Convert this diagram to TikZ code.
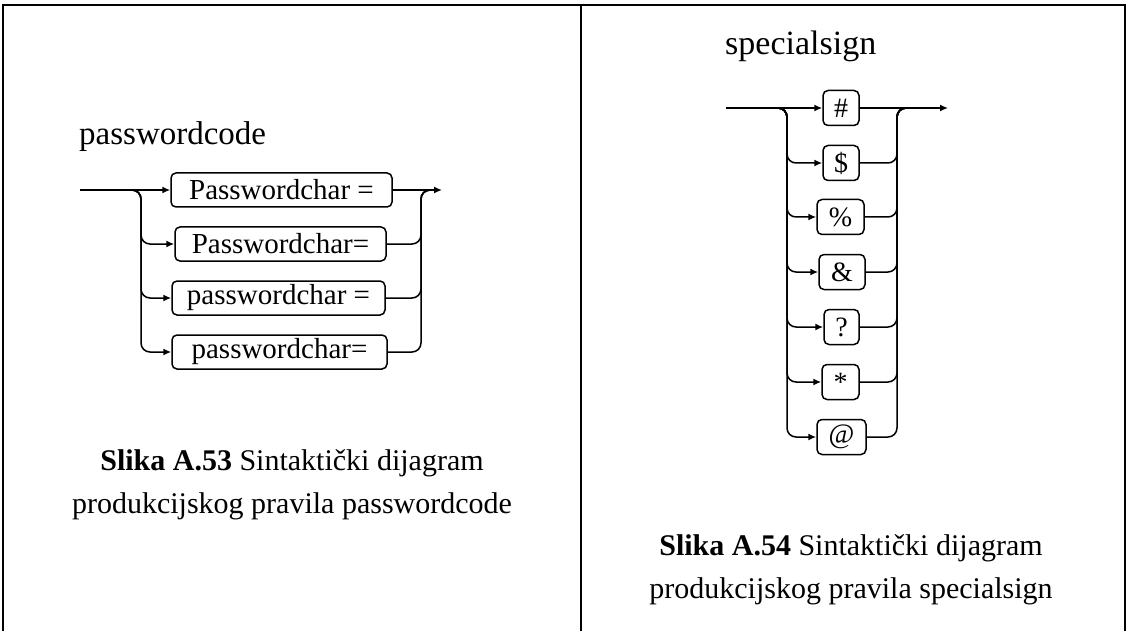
\documentclass[tikz,border=0pt]{standalone}
\usepackage{fontspec}
\setmainfont{Liberation Serif}
\usetikzlibrary{arrows.meta}
\begin{document}
\begin{tikzpicture}[x=1pt,y=-1pt,
  rail/.style={line width=1.5pt, rounded corners=9pt},
  arr/.style={-{Latex[length=8pt,width=7pt]}},
  term/.style={draw, line width=1.5pt, rounded corners=5pt, minimum height=34pt, inner sep=0pt, font=\fontsize{29}{32}\selectfont},
  sterm/.style={term, minimum height=35pt, font=\fontsize{28}{32}\selectfont},
  titletext/.style={font=\fontsize{33}{38}\selectfont, anchor=base west, inner sep=0pt},
  captext/.style={font=\fontsize{30}{36}\selectfont, anchor=base, inner sep=0pt},
  frameline/.style={line width=2pt}]
\useasboundingbox (0,0) rectangle (1127,631);
% frame
\draw[frameline] (3,631) -- (3,5) -- (1125,5) -- (1125,631);
\draw[frameline] (581,5) -- (581,631);

% ---------- left: passwordcode ----------
\node[titletext] (tL) at (79,145) {passwordcode};
\coordinate (Ls) at (80,190);
\coordinate (Lsp) at (132,190);
\coordinate (Lv) at (141,190);
\coordinate (Rv) at (421,190);
\coordinate (Rj) at (430,190);
\coordinate (Le) at (442,190);
\node[term, minimum width=221pt] (p1) at (281.5,190) {Passwordchar =};
\node[term, minimum width=211pt] (p2) at (280.5,244) {Passwordchar=};
\node[term, minimum width=213pt] (p3) at (278.5,298) {passwordchar =};
\node[term, minimum width=215pt] (p4) at (279.5,352) {passwordchar=};
\draw[rail,arr] (Ls) -- (p1.west);
\draw[rail,arr] (p1.east) -- (Le);
\foreach \b in {p2,p3,p4}{
  \draw[rail,arr] (Lsp) -- (Lv) |- (\b.west);
  \draw[rail] (\b.east) -| (Rv) -- (Rj);
}
\node[captext] (cL1) at (292,470) {\textbf{Slika A.53} Sintaktički dijagram};
\node[captext] (cL2) at (292,513) {produkcijskog pravila passwordcode};

% ---------- right: specialsign ----------
\node[titletext, font=\fontsize{34}{38}\selectfont] (tR) at (725,55) {specialsign};
\coordinate (Ss) at (726,108);
\coordinate (Ssp) at (777,108);
\coordinate (Sv) at (787,108);
\coordinate (Tv) at (897,108);
\coordinate (Tj) at (906,108);
\coordinate (Se) at (948,108);
\node[sterm, minimum width=36pt] (s1) at (841,108) {\#};
\node[sterm, minimum width=36pt] (s2) at (841,163) {\$};
\node[sterm, minimum width=47pt] (s3) at (840.5,217) {\%};
\node[sterm, minimum width=46pt] (s4) at (842,272) {\&};
\node[sterm, minimum width=35pt] (s5) at (841.5,327) {?};
\node[sterm, minimum width=37pt] (s6) at (840.5,382) {*};
\node[sterm, minimum width=49pt] (s7) at (841.5,437) {@};
\draw[rail,arr] (Ss) -- (s1.west);
\draw[rail,arr] (s1.east) -- (Se);
\foreach \b in {s2,s3,s4,s5,s6,s7}{
  \draw[rail,arr] (Ssp) -- (Sv) |- (\b.west);
  \draw[rail] (\b.east) -| (Tv) -- (Tj);
}
\node[captext] (cR1) at (851,555) {\textbf{Slika A.54} Sintaktički dijagram};
\node[captext] (cR2) at (851,598) {produkcijskog pravila specialsign};
\end{tikzpicture}
\end{document}
